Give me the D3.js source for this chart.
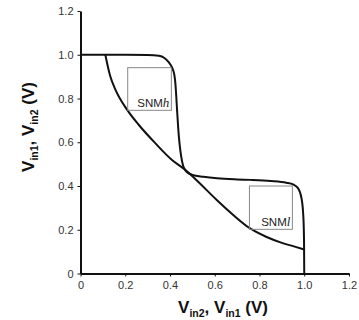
<!DOCTYPE html>
<html><head><meta charset="utf-8">
<script src="https://cdn.jsdelivr.net/npm/d3@7"></script>
<style>body{margin:0;background:#fff}svg{display:block}</style>
</head><body>
<script>
const xTicks = [0, 0.2, 0.4, 0.6, 0.8, 1.0, 1.2];
const xTickLabels = ["0", "0.2", "0.4", "0.6", "0.8", "1.0", "1.2"];
const yTicks = [0, 0.2, 0.4, 0.6, 0.8, 1.0, 1.2];
const yTickLabels = ["0", "0.2", "0.4", "0.6", "0.8", "1.0", "1.2"];

// Curve A (step-like VTC)
const curveAx = [0, 0.20, 0.30, 0.35, 0.375, 0.395, 0.41, 0.419, 0.424, 0.428, 0.432, 0.437, 0.443, 0.45, 0.458, 0.468, 0.48, 0.50, 0.55, 0.61, 0.70, 0.76, 0.85, 0.92, 0.95, 0.973, 0.988, 0.996, 0.999, 1.0];
const curveAy = [1.0, 1.0, 0.999, 0.995, 0.985, 0.965, 0.94, 0.91, 0.87, 0.81, 0.74, 0.66, 0.59, 0.535, 0.495, 0.472, 0.46, 0.451, 0.442, 0.435, 0.43, 0.428, 0.423, 0.415, 0.407, 0.389, 0.343, 0.259, 0.15, 0.0];
// Curve B (gradual VTC)
const curveBx = [0.111, 0.132, 0.156, 0.208, 0.26, 0.334, 0.409, 0.468, 0.52, 0.609, 0.68, 0.758, 0.832, 0.90, 0.95, 1.0];
const curveBy = [1.0, 0.905, 0.841, 0.749, 0.68, 0.596, 0.519, 0.474, 0.425, 0.336, 0.27, 0.206, 0.167, 0.14, 0.125, 0.11];

// SNM boxes
const boxNames = ["SNM", "SNM"];
const boxSuffix = ["h", "l"];
const boxX0 = [0.211, 0.755];
const boxX1 = [0.406, 0.947];
const boxY0 = [0.746, 0.202];
const boxY1 = [0.941, 0.400];

const W = 359, H = 320;
const svg = d3.select("body").append("svg").attr("width", W).attr("height", H);
const x = d3.scaleLinear().domain([0, 1.2]).range([80.5, 349]);
const y = d3.scaleLinear().domain([0, 1.2]).range([273.5, 11]);

// axes
const xAxis = d3.axisBottom(x).tickValues(xTicks).tickFormat((d, i) => xTickLabels[i]).tickSize(3).tickSizeOuter(0);
const yAxis = d3.axisLeft(y).tickValues(yTicks).tickFormat((d, i) => yTickLabels[i]).tickSize(3).tickSizeOuter(0);

const gx = svg.append("g").attr("transform", `translate(0,${y(0)})`).call(xAxis);
const gy = svg.append("g").attr("transform", `translate(${x(0)},0)`).call(yAxis);
[gx, gy].forEach(g => {
  g.select(".domain").attr("stroke", "#111").attr("stroke-width", 2);
  g.selectAll(".tick line").attr("stroke", "#111").attr("stroke-width", 1);
  g.selectAll(".tick text").attr("fill", "#333").style("font-family", "Liberation Sans, Arial, sans-serif").style("font-size", "11px");
});
gx.selectAll(".tick text").attr("dy", "0.95em").attr("y", 5);
gy.selectAll(".tick text").attr("x", -7);

// curves
const lineM = d3.line().x(d => x(d[0])).y(d => y(d[1])).curve(d3.curveMonotoneX);
const dataA = curveAx.map((v, i) => [v, curveAy[i]]);
const dataB = curveBx.map((v, i) => [v, curveBy[i]]);
svg.append("path").attr("d", lineM(dataA)).attr("fill", "none").attr("stroke", "#111").attr("stroke-width", 2);
svg.append("path").attr("d", lineM(dataB)).attr("fill", "none").attr("stroke", "#111").attr("stroke-width", 2);

// boxes
boxX0.forEach((v, i) => {
  svg.append("rect")
    .attr("x", x(boxX0[i])).attr("y", y(boxY1[i]))
    .attr("width", x(boxX1[i]) - x(boxX0[i])).attr("height", y(boxY0[i]) - y(boxY1[i]))
    .attr("fill", "none").attr("stroke", "#888").attr("stroke-width", 1);
  const t = svg.append("text")
    .attr("x", x(boxX1[i]) - 2).attr("y", y(boxY0[i]) - 3)
    .attr("text-anchor", "end")
    .style("font-family", "Liberation Sans, Arial, sans-serif").style("font-size", "11.5px").attr("fill", "#222");
  t.append("tspan").text(boxNames[i]);
  t.append("tspan").text(boxSuffix[i]).style("font-style", "italic").style("font-family", "Liberation Serif, Times New Roman, serif").style("font-size", "13px");
});

// axis titles
const titleFont = "17px", subFont = "10.5px";
const xt = svg.append("text").attr("x", 223).attr("y", 313).attr("text-anchor", "middle")
  .style("font-family", "Liberation Sans, Arial, sans-serif").style("font-size", titleFont).style("font-weight", "bold").attr("fill", "#111");
xt.append("tspan").text("V");
xt.append("tspan").text("in2").attr("dy", 4).style("font-size", subFont);
xt.append("tspan").text(", V").attr("dy", -4);
xt.append("tspan").text("in1").attr("dy", 4).style("font-size", subFont);
xt.append("tspan").text(" (V)").attr("dy", -4);

const yt = svg.append("text").attr("transform", "translate(33.5,127) rotate(-90)").attr("text-anchor", "middle")
  .style("font-family", "Liberation Sans, Arial, sans-serif").style("font-size", titleFont).style("font-weight", "bold").attr("fill", "#111");
yt.append("tspan").text("V");
yt.append("tspan").text("in1").attr("dy", 4).style("font-size", subFont);
yt.append("tspan").text(", V").attr("dy", -4);
yt.append("tspan").text("in2").attr("dy", 4).style("font-size", subFont);
yt.append("tspan").text(" (V)").attr("dy", -4);
</script>
</body></html>
